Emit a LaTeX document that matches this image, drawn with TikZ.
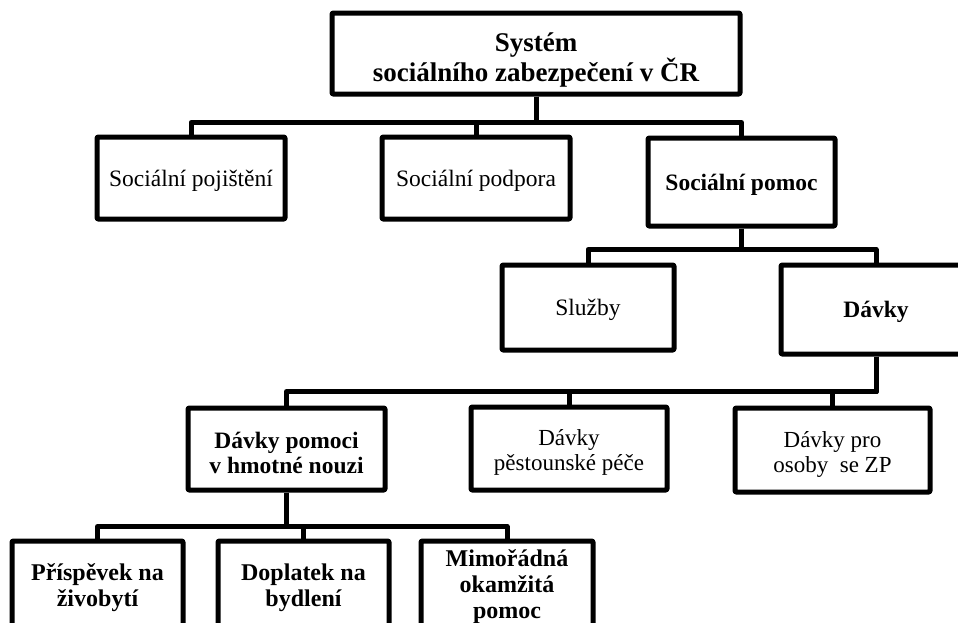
\documentclass[tikz,border=0pt]{standalone}
\usepackage{fontspec}
\setmainfont{Liberation Serif}
\newcommand{\lift}[1]{\rule{0pt}{#1}}
\newcommand{\onestrut}{\rule[-5pt]{0pt}{27pt}}
\begin{document}
\begin{tikzpicture}[x=1pt,y=-1pt,
        box/.style={draw,line width=5pt,line join=round,rounded corners=1pt,align=center,inner sep=0pt},
        link/.style={line width=5pt,line join=round},
        top/.style={font=\fontsize{27}{30}\selectfont\bfseries},
        mid/.style={font=\fontsize{23.5}{27}\selectfont},
        midb/.style={font=\fontsize{23.5}{27}\selectfont\bfseries},
        low/.style={font=\fontsize{23}{25}\selectfont},
        lowb/.style={font=\fontsize{23.5}{25}\selectfont\bfseries},
        leaf/.style={font=\fontsize{24}{26}\selectfont\bfseries}]
    \path[use as bounding box] (0,0) rectangle (958,622);
    \clip (0,0) rectangle (958,622);
    \node [box,top,minimum width=408pt,minimum height=81pt] (root) at (536,53.5) {\lift{32pt}Systém\\sociálního zabezpečení v ČR};
    \node [box,mid,minimum width=188pt,minimum height=82pt] (poj) at (191,178) {\onestrut Sociální pojištění};
    \node [box,mid,minimum width=188pt,minimum height=82pt] (podp) at (476,178) {\onestrut Sociální podpora};
    \node [box,midb,minimum width=187pt,minimum height=88pt] (pomoc) at (741.5,182) {\onestrut Sociální pomoc};
    \node [box,mid,minimum width=172pt,minimum height=85pt] (sluzby) at (588,307.5) {\onestrut Služby};
    \node [box,midb,minimum width=190pt,minimum height=89pt] (davky) at (876,309.5) {\onestrut Dávky};
    \node [box,lowb,minimum width=197pt,minimum height=82pt] (hmot) at (286.5,449) {\lift{24.5pt}Dávky pomoci\\v hmotné nouzi};
    \node [box,low,minimum width=196pt,minimum height=83pt] (pest) at (569,448.5) {\lift{24.5pt}Dávky\\pěstounské péče};
    \node [box,low,minimum width=195pt,minimum height=84pt] (zp) at (832.5,450) {\lift{24.5pt}Dávky pro\\osoby\ \ se ZP};
    \node [box,leaf,minimum width=171pt,minimum height=86pt] (prisp) at (97.5,584) {\lift{23.5pt}Příspěvek na\\živobytí};
    \node [box,leaf,minimum width=171pt,minimum height=86pt] (dopl) at (303.5,584) {\lift{23.5pt}Doplatek na\\bydlení};
    \node [box,leaf,minimum width=172pt,minimum height=86pt] (mimo) at (507,584) {\lift{22pt}Mimořádná\\okamžitá\\pomoc};
    \foreach \kid in {poj,podp,pomoc}
        \draw [link] (root.south) -- ++(0,26) -| (\kid.north);
    \foreach \kid in {sluzby,davky}
        \draw [link] (pomoc.south) -- ++(0,21) -| (\kid.north);
    \foreach \kid in {hmot,pest,zp}
        \draw [link] (davky.south) -- ++(0,35) -| (\kid.north);
    \foreach \kid in {prisp,dopl,mimo}
        \draw [link] (hmot.south) -- ++(0,34) -| (\kid.north);
\end{tikzpicture}
\end{document}
